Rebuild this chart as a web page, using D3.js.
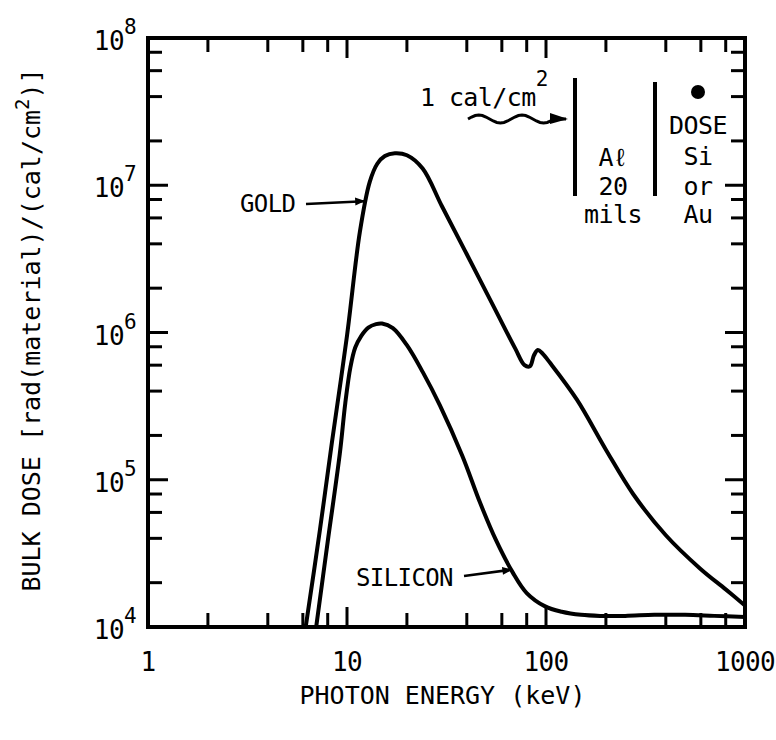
<!DOCTYPE html>
<html lang="en">
<head>
<meta charset="UTF-8">
<title>Bulk dose vs photon energy</title>
<script src="https://cdn.jsdelivr.net/npm/d3@7"></script>
<style>
    body { margin: 0; background: #fff; }
    svg text {
        font-family: "DejaVu Sans Mono", "Liberation Mono", monospace;
        letter-spacing: -0.6px;
        fill: #000;
    }
    svg text.title { letter-spacing: 0; }
</style>
</head>
<body>
<div id="chart"></div>
<script>
    // values (energy in keV, dose in rad/(cal/cm2))
    const goldEnergy = [6.2, 7.3, 8.4, 10, 11.6, 13, 14.2, 15.5, 17.4, 20, 24, 30, 40, 55, 70, 78, 83, 87, 91, 96, 105, 143, 200, 274, 400, 594, 800, 1000];
    const goldDose = [1.0e4, 4.5e4, 1.8e5, 9.5e5, 4.8e6, 1.05e7, 1.4e7, 1.58e7, 1.65e7, 1.6e7, 1.3e7, 7.2e6, 3.4e6, 1.47e6, 7.8e5, 6.0e5, 5.9e5, 7.0e5, 7.6e5, 7.2e5, 6.2e5, 3.5e5, 1.6e5, 8.0e4, 4.2e4, 2.5e4, 1.8e4, 1.4e4];
    const siliconEnergy = [7.0, 8.0, 9.2, 9.8, 10.4, 11.0, 11.8, 12.8, 14, 15, 17, 20, 24, 29.3, 38, 46.6, 56, 68, 80, 99, 120, 150, 187, 250, 350, 500, 700, 1000];
    const siliconDose = [1.0e4, 3.8e4, 1.5e5, 3.3e5, 5.8e5, 7.9e5, 9.5e5, 1.08e6, 1.14e6, 1.15e6, 1.07e6, 8.2e5, 5.4e5, 3.2e5, 1.45e5, 7.0e4, 3.9e4, 2.35e4, 1.7e4, 1.38e4, 1.27e4, 1.21e4, 1.19e4, 1.19e4, 1.21e4, 1.21e4, 1.19e4, 1.17e4];

    const xTickValues = [1, 10, 100, 1000];
    const xTickLabels = ["1", "10", "100", "1000"];
    const yTickExponents = [4, 5, 6, 7, 8];
    const minorMultipliers = [2, 4, 6, 8];

    const W = 776, H = 740;
    const margin = { top: 38, right: 31, bottom: 113, left: 148 };
    const width = W - margin.left - margin.right;
    const height = H - margin.top - margin.bottom;

    const svg = d3.select("#chart").append("svg")
        .attr("width", W).attr("height", H);

    const g = svg.append("g")
        .attr("transform", `translate(${margin.left},${margin.top})`);

    const x = d3.scaleLog().domain([1, 1000]).range([0, width]);
    const y = d3.scaleLog().domain([1e4, 1e8]).range([height, 0]);

    // tick positions: majors at decades, minors at 2,4,6,8
    const xMinor = [];
    [1, 10, 100].forEach(d => minorMultipliers.forEach(m => xMinor.push(d * m)));
    const yMinor = [];
    [1e4, 1e5, 1e6, 1e7].forEach(d => minorMultipliers.forEach(m => yMinor.push(d * m)));

    const majorLen = 20, minorLen = 14;

    // ticks on all four sides, pointing inward
    const ticks = g.append("g").attr("stroke", "#000").attr("stroke-width", 3);
    xMinor.forEach(v => {
        ticks.append("line").attr("x1", x(v)).attr("x2", x(v)).attr("y1", height).attr("y2", height - minorLen);
        ticks.append("line").attr("x1", x(v)).attr("x2", x(v)).attr("y1", 0).attr("y2", minorLen);
    });
    xTickValues.slice(1, 3).forEach(v => {
        ticks.append("line").attr("x1", x(v)).attr("x2", x(v)).attr("y1", height).attr("y2", height - majorLen);
        ticks.append("line").attr("x1", x(v)).attr("x2", x(v)).attr("y1", 0).attr("y2", majorLen);
    });
    yMinor.forEach(v => {
        ticks.append("line").attr("x1", 0).attr("x2", minorLen).attr("y1", y(v)).attr("y2", y(v));
        ticks.append("line").attr("x1", width).attr("x2", width - minorLen).attr("y1", y(v)).attr("y2", y(v));
    });
    yTickExponents.slice(1, 4).forEach(e => {
        const v = Math.pow(10, e);
        ticks.append("line").attr("x1", 0).attr("x2", majorLen).attr("y1", y(v)).attr("y2", y(v));
        ticks.append("line").attr("x1", width).attr("x2", width - majorLen).attr("y1", y(v)).attr("y2", y(v));
    });

    // frame
    g.append("rect")
        .attr("width", width).attr("height", height)
        .attr("fill", "none").attr("stroke", "#000").attr("stroke-width", 4);

    // x tick labels
    g.selectAll(".xlab").data(xTickValues).enter().append("text")
        .attr("x", d => x(d))
        .attr("y", height + 44)
        .attr("text-anchor", "middle")
        .attr("font-size", 26)
        .text((d, i) => xTickLabels[i]);

    // y tick labels 10^n
    yTickExponents.forEach(e => {
        const t = g.append("text")
            .attr("x", -12)
            .attr("y", y(Math.pow(10, e)) + 12)
            .attr("text-anchor", "end")
            .attr("font-size", 26);
        t.append("tspan").text("10");
        t.append("tspan").attr("dy", -16).attr("font-size", 21).text(e);
    });

    // axis titles
    g.append("text")
        .attr("class", "title")
        .attr("x", width / 2 - 4)
        .attr("y", height + 77)
        .attr("text-anchor", "middle")
        .attr("font-size", 25)
        .text("PHOTON ENERGY (keV)");

    const yt = svg.append("text")
        .attr("class", "title")
        .attr("transform", `translate(40,330) rotate(-90)`)
        .attr("text-anchor", "middle")
        .attr("font-size", 25);
    yt.append("tspan").text("BULK DOSE [rad(material)/(cal/cm");
    yt.append("tspan").attr("dy", -11).attr("font-size", 19).text("2");
    yt.append("tspan").attr("dy", 11).text(")]");

    // curves
    g.append("clipPath").attr("id", "plotclip")
        .append("rect").attr("width", width).attr("height", height);

    const line = d3.line()
        .x(d => x(d[0]))
        .y(d => y(d[1]))
        .curve(d3.curveCatmullRom.alpha(0.5));

    const goldData = goldEnergy.map((e, i) => [e, goldDose[i]]);
    const siliconData = siliconEnergy.map((e, i) => [e, siliconDose[i]]);

    [goldData, siliconData].forEach(data => {
        g.append("path")
            .datum(data)
            .attr("clip-path", "url(#plotclip)")
            .attr("fill", "none")
            .attr("stroke", "#000")
            .attr("stroke-width", 4)
            .attr("stroke-linejoin", "round")
            .attr("d", line);
    });

    // arrowhead marker
    svg.append("defs").append("marker")
        .attr("id", "head").attr("viewBox", "0 0 10 10")
        .attr("refX", 9).attr("refY", 5)
        .attr("markerWidth", 5).attr("markerHeight", 4)
        .attr("orient", "auto")
        .append("path").attr("d", "M0,1 L10,5 L0,9 Z").attr("fill", "#000");

    // GOLD label
    g.append("text").attr("x", 92).attr("y", 174).attr("font-size", 24).text("GOLD");
    g.append("line")
        .attr("x1", 158).attr("y1", 166).attr("x2", x(12.2)).attr("y2", y(7.8e6))
        .attr("stroke", "#000").attr("stroke-width", 2.5).attr("marker-end", "url(#head)");

    // SILICON label
    g.append("text").attr("x", 208).attr("y", 548).attr("font-size", 24).text("SILICON");
    g.append("line")
        .attr("x1", 316).attr("y1", 538).attr("x2", x(67)).attr("y2", y(2.45e4))
        .attr("stroke", "#000").attr("stroke-width", 2.5).attr("marker-end", "url(#head)");

    // inset schematic: incident fluence, Al shield, dose point
    const inset = svg.append("g");
    const cal = inset.append("text").attr("x", 420).attr("y", 106).attr("font-size", 25);
    cal.append("tspan").text("1 cal/cm");
    cal.append("tspan").attr("dy", -20).attr("font-size", 21).text("2");

    let wave = "M468,119";
    for (let i = 1; i <= 24; i++) {
        const px = 468 + i * 3.6;
        const py = 119 + 4 * Math.sin(i / 24 * Math.PI * 4 + Math.PI);
        wave += ` L${px.toFixed(1)},${py.toFixed(1)}`;
    }
    wave += " L566,119";
    inset.append("path").attr("d", wave)
        .attr("fill", "none").attr("stroke", "#000").attr("stroke-width", 3);
    inset.append("path").attr("d", "M550,113 L568,119 L550,124 Z").attr("fill", "#000");

    inset.append("line").attr("x1", 575).attr("x2", 575).attr("y1", 78).attr("y2", 196)
        .attr("stroke", "#000").attr("stroke-width", 4);
    inset.append("line").attr("x1", 655).attr("x2", 655).attr("y1", 82).attr("y2", 196)
        .attr("stroke", "#000").attr("stroke-width", 4);
    inset.append("circle").attr("cx", 698).attr("cy", 92).attr("r", 7).attr("fill", "#000");

    [["A\u2113", 166], ["20", 195], ["mils", 223]].forEach(([s, yy]) => {
        inset.append("text").attr("x", 613).attr("y", yy).attr("text-anchor", "middle")
            .attr("font-size", 25).text(s);
    });
    [["DOSE", 134], ["Si", 165], ["or", 195], ["Au", 223]].forEach(([s, yy]) => {
        inset.append("text").attr("x", 698).attr("y", yy).attr("text-anchor", "middle")
            .attr("font-size", 25).text(s);
    });
</script>
</body>
</html>
